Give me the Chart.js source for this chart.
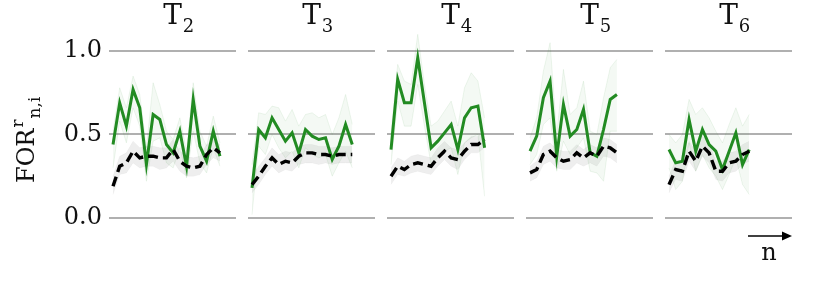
<!DOCTYPE html>
<html>
<head>
<meta charset="utf-8">
<script src="https://cdn.jsdelivr.net/npm/chart.js@4.4.1/dist/chart.umd.min.js"></script>
<style>
  html, body { margin: 0; padding: 0; background: #fff; }
  #wrap { position: relative; width: 830px; height: 281px; }
  #wrap canvas { position: absolute; left: 0; top: 0; }
</style>
</head>
<body>
<div id="wrap">
  <canvas id="c0" width="830" height="281"></canvas>
  <canvas id="c1" width="830" height="281"></canvas>
  <canvas id="c2" width="830" height="281"></canvas>
  <canvas id="c3" width="830" height="281"></canvas>
  <canvas id="c4" width="830" height="281"></canvas>
</div>
<script>
const subs = ['2', '3', '4', '5', '6'];
const yTicks = [0, 0.5, 1.0];

// T2
const t2Green   = [0.44,0.69,0.55,0.77,0.66,0.32,0.62,0.59,0.44,0.39,0.52,0.31,0.71,0.43,0.34,0.52,0.37];
const t2GreenHi = [0.52,0.78,0.66,0.85,0.74,0.42,0.81,0.68,0.52,0.47,0.60,0.40,0.81,0.52,0.43,0.61,0.45];
const t2GreenLo = [0.30,0.58,0.45,0.66,0.55,0.22,0.46,0.48,0.33,0.30,0.42,0.24,0.52,0.33,0.27,0.42,0.31];
const t2Black   = [0.19,0.31,0.33,0.40,0.36,0.37,0.37,0.36,0.36,0.41,0.34,0.31,0.30,0.31,0.38,0.42,0.39];
const t2BlackHi = [0.25,0.37,0.39,0.46,0.42,0.43,0.43,0.42,0.42,0.47,0.40,0.37,0.36,0.37,0.44,0.47,0.44];
const t2BlackLo = [0.14,0.26,0.27,0.33,0.30,0.31,0.31,0.29,0.30,0.34,0.28,0.25,0.25,0.26,0.32,0.36,0.34];

// T3
const t3Green   = [0.18,0.53,0.48,0.60,0.53,0.46,0.51,0.39,0.53,0.49,0.47,0.48,0.35,0.43,0.56,0.44];
const t3GreenHi = [0.32,0.63,0.62,0.67,0.66,0.58,0.65,0.55,0.62,0.63,0.60,0.62,0.50,0.60,0.74,0.56];
const t3GreenLo = [0.02,0.43,0.38,0.50,0.42,0.36,0.40,0.30,0.42,0.38,0.36,0.38,0.25,0.33,0.40,0.30];
const t3Black   = [0.20,0.25,0.31,0.36,0.32,0.34,0.33,0.37,0.39,0.39,0.38,0.38,0.37,0.38,0.38,0.38];
const t3BlackHi = [0.25,0.31,0.36,0.42,0.38,0.40,0.39,0.43,0.44,0.44,0.43,0.43,0.42,0.43,0.43,0.43];
const t3BlackLo = [0.15,0.20,0.26,0.31,0.27,0.29,0.28,0.32,0.33,0.33,0.32,0.33,0.32,0.33,0.33,0.33];

// T4
const t4Green   = [0.41,0.83,0.69,0.69,0.96,0.69,0.42,0.46,0.51,0.56,0.41,0.60,0.66,0.67,0.42];
const t4GreenHi = [0.50,0.92,0.82,0.80,1.10,0.80,0.55,0.58,0.64,0.70,0.55,0.78,0.87,0.82,0.60];
const t4GreenLo = [0.32,0.70,0.55,0.55,0.80,0.55,0.32,0.36,0.40,0.42,0.26,0.45,0.48,0.50,0.13];
const t4Black   = [0.25,0.31,0.29,0.32,0.33,0.32,0.31,0.36,0.40,0.36,0.35,0.40,0.44,0.44,0.47];
const t4BlackHi = [0.30,0.36,0.34,0.37,0.38,0.37,0.36,0.42,0.46,0.42,0.41,0.45,0.49,0.49,0.52];
const t4BlackLo = [0.20,0.26,0.25,0.27,0.28,0.27,0.26,0.31,0.35,0.31,0.29,0.35,0.39,0.39,0.42];

// T5
const t5Green   = [0.40,0.49,0.72,0.82,0.37,0.68,0.49,0.53,0.65,0.39,0.37,0.53,0.71,0.74];
const t5GreenHi = [0.48,0.60,0.88,1.05,0.50,0.89,0.62,0.66,0.82,0.52,0.50,0.72,0.90,0.95];
const t5GreenLo = [0.32,0.38,0.56,0.60,0.28,0.46,0.38,0.42,0.48,0.28,0.27,0.22,0.52,0.52];
const t5Black   = [0.27,0.29,0.38,0.40,0.36,0.34,0.35,0.39,0.36,0.39,0.37,0.43,0.42,0.39];
const t5BlackHi = [0.31,0.34,0.43,0.45,0.41,0.40,0.40,0.44,0.41,0.44,0.42,0.48,0.47,0.44];
const t5BlackLo = [0.22,0.24,0.32,0.34,0.30,0.29,0.29,0.33,0.31,0.33,0.31,0.37,0.36,0.33];

// T6
const t6Green   = [0.41,0.33,0.34,0.59,0.40,0.53,0.44,0.40,0.29,0.40,0.51,0.32,0.41];
const t6GreenHi = [0.50,0.45,0.50,0.71,0.62,0.66,0.60,0.52,0.45,0.56,0.66,0.55,0.62];
const t6GreenLo = [0.30,0.17,0.22,0.45,0.28,0.38,0.30,0.25,0.17,0.26,0.36,0.20,0.14];
const t6Black   = [0.20,0.29,0.28,0.40,0.34,0.43,0.39,0.28,0.28,0.33,0.34,0.38,0.40];
const t6BlackHi = [0.25,0.35,0.34,0.46,0.40,0.49,0.45,0.34,0.34,0.39,0.40,0.44,0.46];
const t6BlackLo = [0.15,0.23,0.22,0.34,0.28,0.37,0.33,0.23,0.22,0.27,0.28,0.32,0.34];

const panels = [
    [t2Green, t2GreenHi, t2GreenLo, t2Black, t2BlackHi, t2BlackLo],
    [t3Green, t3GreenHi, t3GreenLo, t3Black, t3BlackHi, t3BlackLo],
    [t4Green, t4GreenHi, t4GreenLo, t4Black, t4BlackHi, t4BlackLo],
    [t5Green, t5GreenHi, t5GreenLo, t5Black, t5BlackHi, t5BlackLo],
    [t6Green, t6GreenHi, t6GreenLo, t6Black, t6BlackHi, t6BlackLo]
];

// layout of the panels (page pixels)
const panelLeft = [109, 248, 387, 526, 665];
const panelWidth = 127;
const FONT = '"DejaVu Serif", serif';

Chart.defaults.font.family = FONT;

const pts = arr => arr.map((v, i) => ({x: i, y: v}));

// titles, y label and the "n" arrow drawn as canvas text
const decoPlugin = {
    id: 'deco',
    afterDraw(chart, args, opts) {
        const ctx = chart.ctx;
        const a = chart.chartArea;
        const cx = (a.left + a.right) / 2;
        ctx.save();
        ctx.fillStyle = '#111';
        ctx.textBaseline = 'alphabetic';
        ctx.textAlign = 'left';

        // panel title T_k
        ctx.font = '28px ' + FONT;
        const wT = ctx.measureText('T').width;
        ctx.fillText('T', cx - wT / 2, 24);
        ctx.font = '18px ' + FONT;
        ctx.fillText(opts.sub, cx + wT / 2 + 1, 32);

        if (opts.ylabel) {
            ctx.save();
            ctx.translate(34, 183);
            ctx.rotate(-Math.PI / 2);
            ctx.font = '24px ' + FONT;
            ctx.fillText('FOR', 0, 0);
            const w = ctx.measureText('FOR').width;
            ctx.font = '17px ' + FONT;
            ctx.fillText('r', w + 1, -11);
            const wr = ctx.measureText('r').width;
            ctx.fillText('n,i', w + wr + 2, 6);
            ctx.restore();
        }

        if (opts.arrow) {
            ctx.strokeStyle = '#000';
            ctx.lineWidth = 1.6;
            ctx.beginPath();
            ctx.moveTo(748, 236);
            ctx.lineTo(785, 236);
            ctx.stroke();
            ctx.beginPath();
            ctx.moveTo(792, 236);
            ctx.lineTo(782, 231.5);
            ctx.lineTo(782, 240.5);
            ctx.closePath();
            ctx.fillStyle = '#000';
            ctx.fill();
            ctx.fillStyle = '#111';
            ctx.font = '24px ' + FONT;
            ctx.textAlign = 'center';
            ctx.fillText('n', 769, 260);
        }
        ctx.restore();
    }
};

panels.forEach((p, idx) => {
    const first = idx === 0;
    const last = idx === panels.length - 1;
    new Chart(document.getElementById('c' + idx), {
        type: 'line',
        data: {
            datasets: [{
                data: pts(p[3]),
                borderColor: '#000',
                borderWidth: 3.4,
                borderDash: [10, 5],
                pointRadius: 0,
                fill: false,
                order: 0
            }, {
                data: pts(p[0]),
                borderColor: '#228b22',
                borderWidth: 3,
                pointRadius: 0,
                fill: false,
                order: 1
            }, {
                data: pts(p[1]),
                borderColor: 'rgba(34,139,34,0.08)',
                backgroundColor: 'rgba(34,139,34,0.05)',
                borderWidth: 1,
                pointRadius: 0,
                fill: '+1',
                order: 2
            }, {
                data: pts(p[2]),
                borderColor: 'rgba(34,139,34,0.08)',
                borderWidth: 1,
                pointRadius: 0,
                fill: false,
                order: 3
            }, {
                data: pts(p[4]),
                borderColor: 'rgba(0,0,0,0.03)',
                backgroundColor: 'rgba(0,0,0,0.065)',
                borderWidth: 1,
                pointRadius: 0,
                fill: '+1',
                order: 4
            }, {
                data: pts(p[5]),
                borderColor: 'rgba(0,0,0,0.03)',
                borderWidth: 1,
                pointRadius: 0,
                fill: false,
                order: 5
            }]
        },
        options: {
            responsive: false,
            animation: false,
            layout: {
                padding: {
                    left: first ? 0 : panelLeft[idx],
                    right: 830 - panelLeft[idx] - panelWidth,
                    top: 26,
                    bottom: 38
                }
            },
            plugins: {
                legend: {display: false},
                tooltip: {enabled: false},
                deco: {sub: subs[idx], ylabel: first, arrow: last}
            },
            scales: {
                x: {type: 'linear', min: -0.6, max: 18.4, display: false},
                y: {
                    min: -0.15,
                    max: 1.15,
                    afterBuildTicks: s => { s.ticks = yTicks.map(v => ({value: v})); },
                    afterFit: s => { s.width = first ? panelLeft[0] : 0; },
                    border: {display: false},
                    grid: {color: '#b0b0b0', lineWidth: 2, drawTicks: false},
                    ticks: {
                        display: first,
                        padding: 7,
                        color: '#111',
                        font: {size: 24},
                        callback: v => v.toFixed(1)
                    }
                }
            }
        },
        plugins: [decoPlugin]
    });
});
</script>
</body>
</html>
